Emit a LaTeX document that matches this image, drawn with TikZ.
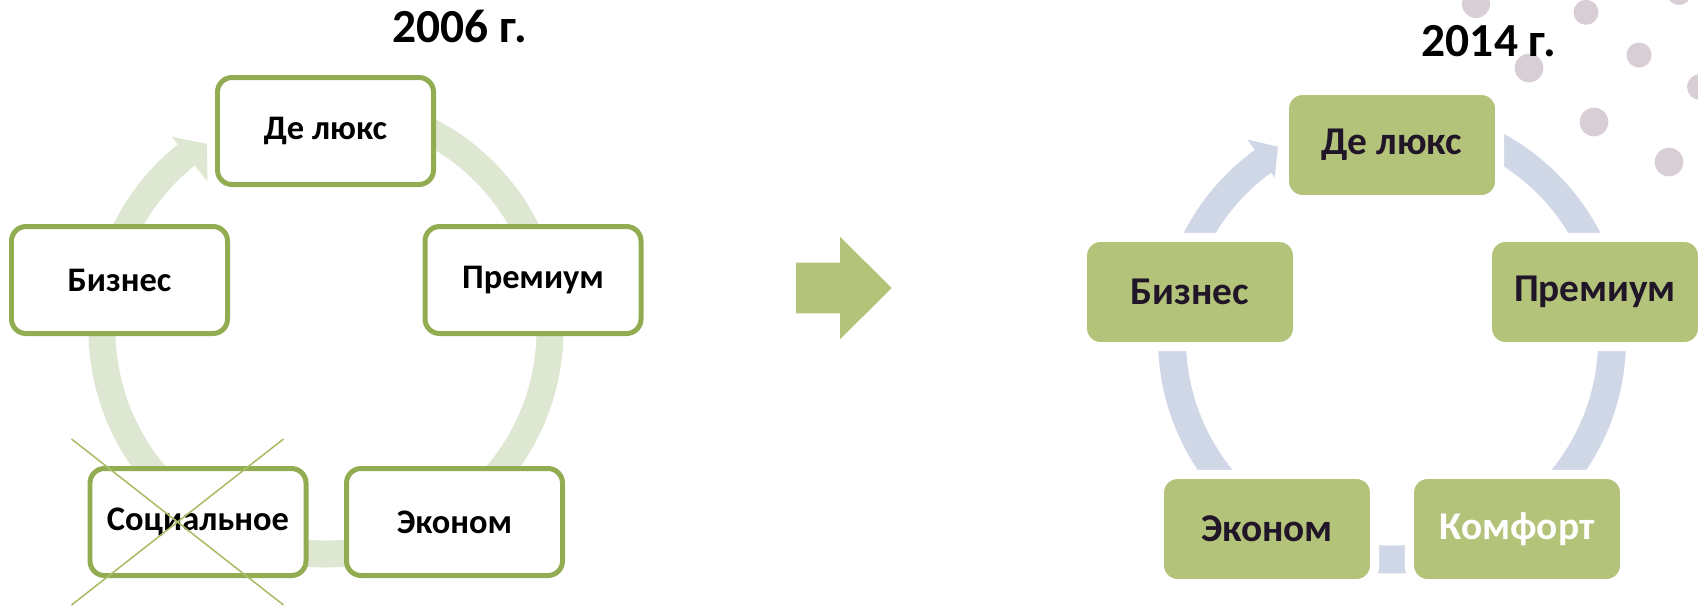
\documentclass[tikz,border=0pt]{standalone}
\usepackage{fontspec}
\setmainfont{Carlito}
\definecolor{oldgreen}{RGB}{146,172,82}
\definecolor{oldring}{RGB}{221,231,209}
\definecolor{newgreen}{RGB}{179,195,122}
\definecolor{newring}{RGB}{208,216,232}
\definecolor{dotgrey}{RGB}{216,206,214}
\definecolor{crossgreen}{RGB}{170,190,105}
\definecolor{darkink}{RGB}{32,22,40}
\begin{document}
\begin{tikzpicture}[
  obox/.style={draw=oldgreen, line width=1.42pt, fill=white, rounded corners=0.145cm,
               minimum width=2.16cm, minimum height=1.07cm, inner sep=0pt,
               font=\fontsize{9.8}{11.8}\selectfont\bfseries},
  nbox/.style={draw=white, line width=2.6pt, fill=newgreen, rounded corners=0.18cm,
               minimum width=2.152cm, minimum height=1.092cm, inner sep=0pt, text=darkink,
               font=\fontsize{11.2}{13.4}\selectfont\bfseries},
  yr/.style={font=\fontsize{13.5}{16}\selectfont\bfseries, inner sep=0pt, anchor=base},
  xmark/.style={draw=crossgreen, line width=0.45pt},
  dot/.style={fill=dotgrey}
]
  \useasboundingbox (0,0) rectangle (16.98,6.05);
  \clip (0,0) rectangle (16.98,6.05);
  %% --- Dots, top right ---
  \fill[dot] (14.76,6.01) circle (0.14);
  \fill[dot] (15.86,5.927) circle (0.125);
  \fill[dot] (16.79,6.12) circle (0.12);
  \fill[dot] (16.39,5.50) circle (0.125);
  \fill[dot] (15.29,5.37) circle (0.143);
  \fill[dot] (17.00,5.18) circle (0.13);
  \fill[dot] (15.94,4.83) circle (0.143);
  \fill[dot] (16.69,4.43) circle (0.143);
  %% --- Rings ---
  \begin{scope}[shift={(3.26,2.75)}]
    \draw[oldring, line width=0.27cm] (90:2.24) arc[start angle=90, end angle=-190, radius=2.24];
    \fill[oldring] (170:2.375) arc[start angle=170, end angle=128.6, radius=2.375]
      -- (128.6:2.47) -- (122.6:2.21) -- (128.6:1.90) -- (128.6:2.105)
      arc[start angle=128.6, end angle=170, radius=2.105] -- cycle;
  \end{scope}
  \begin{scope}[shift={(13.92,2.655)}]
    \draw[newring, line width=0.28cm] (90:2.2) arc[start angle=90, end angle=-190, radius=2.2];
    \fill[newring] (170:2.34) arc[start angle=170, end angle=125.9, radius=2.34]
      -- (125.9:2.47) -- (120.6:2.24) -- (125.9:2.0) -- (125.9:2.06)
      arc[start angle=125.9, end angle=170, radius=2.06] -- cycle;
  \end{scope}
  %% --- 2006 ---
  \node[yr] (y06) at (4.60,5.63) {2006 г.};
  \node[obox] (dl1) at (3.255,4.74) {Де люкс};
  \node[obox] (biz1) at (1.195,3.25) {Бизнес};
  \node[obox] (prem1) at (5.33,3.25) {Премиум};
  \node[obox] (soc1) at (1.98,0.83) {Социальное};
  \node[obox] (eco1) at (4.545,0.83) {Эконом};
  \draw[xmark] (0.715,1.66) -- (2.835,0);
  \draw[xmark] (2.835,1.66) -- (0.715,0);
  %% --- Arrow ---
  \fill[newgreen] (7.96,2.917) -- (8.40,2.917) -- (8.40,2.657) -- (8.917,3.17)
    -- (8.40,3.683) -- (8.40,3.423) -- (7.96,3.423) -- cycle;
  %% --- 2014 ---
  \node[yr] (y14) at (14.89,5.49) {2014 г.};
  \node[nbox] (dl2) at (13.92,4.60) {Де люкс};
  \node[nbox] (biz2) at (11.90,3.13) {Бизнес};
  \node[nbox] (prem2) at (15.95,3.13) {Премиум};
  \node[nbox] (eco2) at (12.67,0.76) {Эконом};
  \node[nbox, text=white] (kom2) at (15.17,0.76) {Комфорт};
\end{tikzpicture}
\end{document}
